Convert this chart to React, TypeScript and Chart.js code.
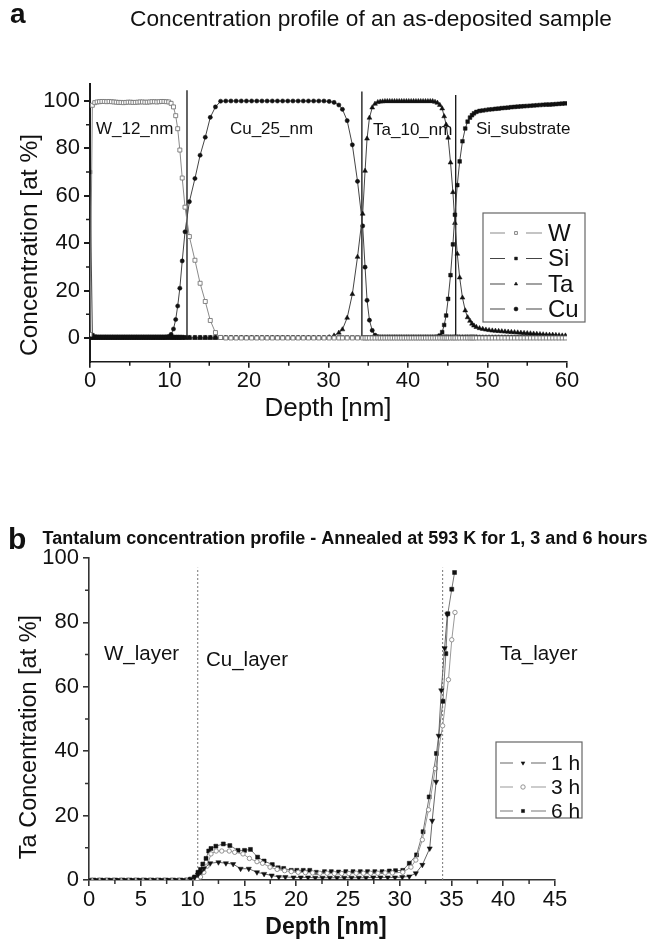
import React, { useEffect, useRef } from 'react';
import { Chart, registerables } from 'chart.js';
import { drawPoint } from 'chart.js/helpers';

Chart.register(...registerables);

const FONT = "'Liberation Sans', Arial, Helvetica, sans-serif";

// ---------------- Panel a : as-deposited profile ----------------
const DEPTH_A = [
  0, 0.3, 0.6, 0.9, 1.2, 1.5, 1.8, 2.1, 2.4, 2.7, 3.0, 3.3, 3.6, 3.9, 4.2, 4.5, 4.8, 5.1, 5.4, 5.7,
  6.0, 6.3, 6.6, 6.9, 7.2, 7.5, 7.8, 8.1, 8.4, 8.7, 9.0, 9.3, 9.6, 9.9,
  10.2, 10.5, 10.78, 11.03, 11.3, 11.6, 11.95, 12.5, 13.2, 13.85, 14.5, 15.13, 15.78, 16.43,
  17.08, 17.73, 18.38, 19.03, 19.68, 20.33, 20.98, 21.63, 22.28, 22.93, 23.58, 24.23, 24.88, 25.53,
  26.18, 26.83, 27.48, 28.13, 28.78, 29.43, 30.08, 30.7, 31.3,
  31.75, 32.35, 33.0, 33.65, 34.3, 34.6, 34.85, 35.15, 35.5, 35.85, 36.2,
  36.5, 36.8, 37.1, 37.4, 37.7, 38.0, 38.3, 38.6, 38.9, 39.2, 39.5, 39.8, 40.1, 40.4, 40.7, 41.0,
  41.3, 41.6, 41.9, 42.2, 42.5, 42.8, 43.1, 43.4, 43.7,
  44.0, 44.3, 44.55, 44.8, 45.05, 45.35, 45.65, 45.9, 46.2, 46.5, 46.85, 47.2, 47.5, 47.8, 48.05, 48.3, 48.6,
  49.0, 49.4, 49.8, 50.2, 50.6, 51.0, 51.4, 51.8, 52.2, 52.6, 53.0, 53.4, 53.8, 54.2, 54.6, 55.0,
  55.4, 55.8, 56.2, 56.6, 57.0, 57.4, 57.8, 58.2, 58.6, 59.0, 59.4, 59.8,
];
const W_A = [
  1.5, 98.2, 99.3, 99.6, 99.7, 99.8, 99.8, 99.7, 99.8, 99.7, 99.6, 99.5, 99.4, 99.4, 99.3, 99.4, 99.5, 99.5, 99.4, 99.4,
  99.5, 99.6, 99.6, 99.5, 99.5, 99.6, 99.7, 99.7, 99.6, 99.7, 99.8, 99.8, 99.7, 99.6,
  99.0, 97.5, 93.8, 88.3, 79.3, 67.5, 55.2, 42.8, 32.8, 23.1, 15.4, 7.4, 2.3, 0.2,
  0, 0, 0, 0, 0, 0, 0, 0, 0, 0, 0, 0, 0, 0,
  0, 0, 0, 0, 0, 0, 0, 0, 0,
  0, 0, 0, 0, 0, 0, 0, 0, 0, 0, 0,
  0, 0, 0, 0, 0, 0, 0, 0, 0, 0, 0, 0, 0, 0, 0, 0,
  0, 0, 0, 0, 0, 0, 0, 0, 0,
  0, 0, 0, 0, 0, 0, 0, 0, 0, 0, 0, 0, 0, 0, 0, 0, 0,
  0, 0, 0, 0, 0, 0, 0, 0, 0, 0, 0, 0, 0, 0, 0, 0,
  0, 0, 0, 0, 0, 0, 0, 0, 0, 0, 0, 0,
];
const SI_A = [
  70, 1.2, 0.6, 0.5, 0.5, 0.5, 0.5, 0.5, 0.5, 0.5, 0.5, 0.5, 0.5, 0.5, 0.5, 0.5, 0.5, 0.5, 0.5, 0.5,
  0.5, 0.5, 0.5, 0.5, 0.5, 0.5, 0.5, 0.5, 0.5, 0.5, 0.5, 0.5, 0.5, 0.5,
  0.4, 0.4, 0.4, 0.4, 0.4, 0.4, 0.3, 0.3, 0.3, 0.3, 0.3, 0.3, 0.3, 0.3,
  0.2, 0.2, 0.2, 0.2, 0.2, 0.2, 0.2, 0.2, 0.2, 0.2, 0.2, 0.2, 0.2, 0.2,
  0.2, 0.2, 0.2, 0.2, 0.2, 0.2, 0.2, 0.2, 0.2,
  0.2, 0.2, 0.2, 0.2, 0.2, 0.2, 0.2, 0.2, 0.2, 0.2, 0.2,
  0.2, 0.2, 0.2, 0.2, 0.2, 0.2, 0.2, 0.2, 0.2, 0.2, 0.2, 0.2, 0.2, 0.2, 0.2, 0.2,
  0.2, 0.2, 0.2, 0.2, 0.2, 0.2, 0.2, 0.3, 0.5,
  1.0, 2.5, 5.5, 9.5, 16.5, 26.5, 39.5, 52.0, 64.5, 74.5, 83.0, 88.4, 91.3, 93.0, 94.0, 94.8, 95.4,
  95.8, 96.0, 96.2, 96.4, 96.5, 96.7, 96.8, 97.0, 97.1, 97.2, 97.4, 97.5, 97.6, 97.7, 97.8, 97.9,
  98.0, 98.1, 98.2, 98.3, 98.4, 98.5, 98.5, 98.6, 98.7, 98.8, 98.9, 99.0,
];
const TA_A = [
  0, 0, 0, 0, 0, 0, 0, 0, 0, 0, 0, 0, 0, 0, 0, 0, 0, 0, 0, 0,
  0, 0, 0, 0, 0, 0, 0, 0, 0, 0, 0, 0, 0, 0,
  0, 0, 0, 0, 0, 0, 0, 0, 0, 0, 0, 0, 0, 0,
  0, 0, 0, 0, 0, 0, 0, 0, 0, 0, 0, 0, 0, 0,
  0, 0, 0, 0, 0, 0, 0.3, 1.0, 2.2,
  3.6, 8.5, 18.5, 34.2, 52.4, 70.5, 84.1, 92.9, 97.2, 98.8, 99.5,
  99.7, 99.8, 99.9, 99.9, 99.9, 99.9, 99.9, 99.9, 99.9, 99.9, 99.9, 99.9, 99.9, 99.9, 99.9, 99.9,
  99.9, 99.9, 99.9, 99.9, 99.9, 99.9, 99.9, 99.6, 99.2,
  98.3, 96.8, 93.5, 90.0, 84.5, 74.0, 61.5, 48.5, 35.5, 25.5, 17.0, 11.6, 8.7, 7.2, 6.0, 5.2, 4.6,
  4.1, 3.8, 3.5, 3.3, 3.1, 3.0, 2.9, 2.8, 2.7, 2.6, 2.5, 2.4, 2.3, 2.2, 2.1, 2.0,
  1.9, 1.8, 1.7, 1.6, 1.5, 1.4, 1.3, 1.3, 1.2, 1.1, 1.0, 1.0,
];
const CU_A = [
  0.8, 0.3, 0.3, 0.3, 0.3, 0.3, 0.3, 0.3, 0.3, 0.3, 0.3, 0.3, 0.3, 0.3, 0.3, 0.3, 0.3, 0.3, 0.3, 0.3,
  0.3, 0.3, 0.3, 0.3, 0.3, 0.3, 0.3, 0.3, 0.3, 0.3, 0.3, 0.3, 0.4, 0.6,
  1.5, 3.8, 7.8, 13.5, 21.0, 32.5, 44.8, 57.5, 67.3, 77.1, 84.7, 93.1, 97.5, 99.9,
  100, 100, 100, 100, 100, 100, 100, 100, 100, 100, 100, 100, 100, 100,
  100, 100, 100, 100, 100, 100, 99.8, 99.4, 98.3,
  96.5, 91.7, 81.5, 66.1, 47.3, 29.9, 15.9, 7.5, 3.2, 1.2, 0.6,
  0.5, 0.5, 0.5, 0.5, 0.5, 0.5, 0.5, 0.5, 0.5, 0.5, 0.5, 0.5, 0.5, 0.5, 0.5, 0.5,
  0.5, 0.5, 0.5, 0.5, 0.5, 0.5, 0.5, 0.5, 0.5,
  0.5, 0.5, 0.5, 0.5, 0.5, 0.5, 0.5, 0.5, 0.5, 0.5, 0.5, 0.5, 0.5, 0.5, 0.5, 0.5, 0.5,
  0.4, 0.4, 0.4, 0.4, 0.4, 0.4, 0.4, 0.4, 0.4, 0.4, 0.4, 0.4, 0.4, 0.4, 0.4, 0.4,
  0.4, 0.4, 0.4, 0.4, 0.4, 0.4, 0.4, 0.4, 0.4, 0.4, 0.4, 0.4,
];
const SERIES_A = ['W', 'Si', 'Ta', 'Cu'];
const INTERFACE_DEPTH_A = [12.2, 34.2, 46.0];
const INTERFACE_TOP_A = [104.5, 104, 102.5];
const LAYER_NAMES_A = ['W_12_nm', 'Cu_25_nm', 'Ta_10_nm', 'Si_substrate'];
const X_TICKS_A = [0, 10, 20, 30, 40, 50, 60];
const X_MINOR_A = [5, 15, 25, 35, 45, 55];
const Y_TICKS_A = [0, 20, 40, 60, 80, 100];
const Y_MINOR_A = [10, 30, 50, 70, 90];

// ---------------- Panel b : Ta after annealing ----------------
const H1_DEPTH = [
  0, 0.7, 1.4, 2.1, 2.8, 3.5, 4.2, 4.9, 5.6, 6.3, 7.0, 7.7, 8.4, 9.1,
  9.82, 10.2, 10.52, 10.8, 11.09,
  11.71, 12.5, 13.22, 13.92, 14.64, 15.43, 16.22, 16.91, 17.64, 18.33, 18.96, 19.75,
  20.45, 21.15, 21.85, 22.55, 23.25, 23.95, 24.65, 25.35, 26.05, 26.75, 27.45, 28.15, 28.85, 29.55, 30.25,
  30.93, 31.56, 32.19, 32.9, 33.14, 33.52, 33.77, 34.02, 34.34, 34.6,
];
const H1_CONC = [
  0, 0, 0, 0, 0, 0, 0, 0, 0, 0, 0, 0, 0, 0,
  0.2, 0.8, 1.6, 2.5, 3.6,
  5.2, 5.5, 5.2, 4.95, 3.5, 3.5, 2.4, 1.9, 1.4, 0.95, 0.95, 0.8,
  0.8, 0.8, 0.7, 0.7, 0.7, 0.7, 0.7, 0.7, 0.7, 0.7, 0.8, 0.8, 0.8, 0.8, 0.9,
  1.1, 2.1, 4.7, 9.8, 18.4, 30.5, 44.8, 58.9, 72.0, 82.5,
];
const H3_DEPTH = [
  0.23, 0.93, 1.63, 2.33, 3.03, 3.73, 4.43, 5.13, 5.83, 6.53, 7.23, 7.93, 8.63, 9.33, 9.9,
  10.45, 10.77, 11.09, 11.4, 11.78, 12.28, 12.82, 13.54, 14.07, 14.87, 15.49, 16.22, 16.76, 17.48, 18.17, 18.89, 19.53,
  20.2, 20.9, 21.6, 22.3, 23.0, 23.7, 24.4, 25.1, 25.8, 26.5, 27.2, 27.9, 28.6, 29.3,
  30.3, 31.09, 31.56, 32.19, 32.79, 33.45, 34.15, 34.71, 35.03, 35.34,
];
const H3_CONC = [
  0, 0, 0, 0, 0, 0, 0, 0, 0, 0, 0, 0, 0, 0, 0,
  0.3, 0.95, 2.4, 4.3, 8.1, 9.0, 9.0, 9.0, 8.6, 8.1, 6.7, 5.7, 5.2, 4.0, 3.3, 2.9, 2.6,
  2.4, 2.3, 2.2, 2.1, 2.1, 2.0, 2.0, 2.0, 2.1, 2.1, 2.1, 2.1, 2.2, 2.2,
  2.4, 4.0, 6.2, 12.5, 21.8, 34.6, 47.9, 62.2, 74.6, 83.1,
];
const H6_DEPTH = [
  0.47, 1.17, 1.87, 2.57, 3.27, 3.97, 4.67, 5.37, 6.07, 6.77, 7.47, 8.17, 8.87, 9.5,
  9.82, 10.2, 10.52, 10.77, 10.99, 11.3, 11.56, 11.78, 12.25, 12.97, 13.6, 14.39, 15.02, 15.59, 16.28,
  16.91, 17.7, 18.27, 18.8, 19.53, 20.07, 20.69, 21.32, 21.95, 22.74,
  23.4, 24.1, 24.8, 25.5, 26.2, 26.9, 27.6, 28.3, 29.0, 29.6,
  30.3, 30.93, 31.63, 32.26, 32.85, 33.55, 34.18, 34.46, 34.65, 35.03, 35.3,
];
const H6_CONC = [
  0, 0, 0, 0, 0, 0, 0, 0, 0, 0, 0, 0, 0, 0,
  0.3, 0.95, 2.4, 3.3, 4.95, 6.7, 9.0, 9.8, 10.5, 11.2, 10.7, 9.2, 9.2, 9.5, 7.1,
  5.9, 4.8, 3.8, 3.6, 3.0, 3.0, 3.0, 3.0, 2.4, 2.6,
  2.6, 2.5, 2.6, 2.6, 2.6, 2.6, 2.6, 2.6, 2.8, 2.9,
  3.0, 5.2, 7.8, 15.0, 25.8, 39.3, 55.5, 70.3, 82.7, 90.3, 95.5,
];
const SERIES_B = ['1 h', '3 h', '6 h'];
const BOUNDARY_DEPTH_B = [10.5, 34.15];
const BOUNDARY_TOP_B = 97;
const LAYER_NAMES_B = ['W_layer', 'Cu_layer', 'Ta_layer'];
const X_TICKS_B = [0, 5, 10, 15, 20, 25, 30, 35, 40, 45];
const X_MINOR_B = [2.5, 7.5, 12.5, 17.5, 22.5, 27.5, 32.5, 37.5, 42.5];
const Y_TICKS_B = [0, 20, 40, 60, 80, 100];
const Y_MINOR_B = [10, 30, 50, 70, 90];

// ---------------- helpers ----------------
const pts = (xs: number[], ys: number[]) => xs.map((x, i) => ({ x, y: ys[i] }));

function txt(ctx: CanvasRenderingContext2D, s: string, x: number, y: number, font: string,
  align: CanvasTextAlign = 'left', rot = 0) {
  ctx.save();
  ctx.font = font;
  ctx.fillStyle = '#111';
  ctx.textAlign = align;
  ctx.textBaseline = 'middle';
  ctx.translate(x, y);
  if (rot) ctx.rotate(rot);
  ctx.fillText(s, 0, 0);
  ctx.restore();
}

function minorTicksPlugin(xs: number[], ys: number[], len: number, color: string, width: number) {
  return {
    id: 'minorTicks',
    afterDraw(chart: any) {
      const ctx = chart.ctx;
      const sx = chart.scales.x, sy = chart.scales.y;
      ctx.save();
      ctx.strokeStyle = color;
      ctx.lineWidth = width;
      ctx.beginPath();
      xs.forEach(v => { const p = sx.getPixelForValue(v); ctx.moveTo(p, sx.top); ctx.lineTo(p, sx.top + len); });
      ys.forEach(v => { const p = sy.getPixelForValue(v); ctx.moveTo(sy.right, p); ctx.lineTo(sy.right - len, p); });
      ctx.stroke();
      ctx.restore();
    },
  };
}

type LegendCfg = {
  box: [number, number, number, number];
  rowY: number[];
  dash1: [number, number];
  marker: number;
  dash2: [number, number];
  textX: number;
  font: string;
  labels: string[];
  radius: number;
};

function legendPlugin(cfg: LegendCfg) {
  return {
    id: 'customLegend',
    afterDraw(chart: any) {
      const ctx: CanvasRenderingContext2D = chart.ctx;
      const [l, t, r, b] = cfg.box;
      ctx.save();
      ctx.fillStyle = '#fff';
      ctx.fillRect(l, t, r - l, b - t);
      ctx.strokeStyle = '#666';
      ctx.lineWidth = 1.2;
      ctx.strokeRect(l, t, r - l, b - t);
      cfg.labels.forEach((lab, i) => {
        const ds = chart.data.datasets[i];
        const y = cfg.rowY[i];
        ctx.strokeStyle = ds.borderColor;
        ctx.lineWidth = 1.2;
        ctx.beginPath();
        ctx.moveTo(cfg.dash1[0], y); ctx.lineTo(cfg.dash1[1], y);
        ctx.moveTo(cfg.dash2[0], y); ctx.lineTo(cfg.dash2[1], y);
        ctx.stroke();
        ctx.fillStyle = ds.pointBackgroundColor;
        ctx.strokeStyle = ds.pointBorderColor;
        ctx.lineWidth = ds.pointBorderWidth;
        drawPoint(ctx, { pointStyle: ds.pointStyle, rotation: ds.pointRotation || 0, radius: cfg.radius, borderWidth: ds.pointBorderWidth } as any, cfg.marker, y);
        txt(ctx, lab, cfg.textX, y + 1, cfg.font);
      });
      ctx.restore();
    },
  };
}

function axis(min: number, max: number, ticks: number[], size: { w?: number; h?: number }, padding: number, color: string, bw: number) {
  return {
    type: 'linear' as const,
    min,
    max,
    afterBuildTicks: (s: any) => { s.ticks = ticks.map(v => ({ value: v })); },
    afterFit: (s: any) => { if (size.w !== undefined) s.width = size.w; if (size.h !== undefined) s.height = size.h; },
    grid: { display: true, drawOnChartArea: false, drawTicks: true, tickLength: 6, color, lineWidth: bw },
    border: { display: true, color, width: bw },
    ticks: { font: { size: 22, family: FONT }, color: '#111', padding, maxRotation: 0, autoSkip: false },
  };
}

// ---------------- chart configs ----------------
function configA(): any {
  const lineDs = (xi: number, top: number) => ({
    label: 'iface', data: [{ x: xi, y: 0 }, { x: xi, y: top }],
    borderColor: '#111', borderWidth: 1.3, pointRadius: 0,
  });
  const labelPos = [[0.75, 88], [17.6, 88], [35.6, 87.6], [48.55, 88]];
  return {
    type: 'line',
    data: {
      datasets: [
        { label: SERIES_A[0], data: pts(DEPTH_A, W_A), borderColor: '#8a8a8a', borderWidth: 1, pointStyle: 'rect', pointRadius: 2.8, pointBackgroundColor: '#fff', pointBorderColor: '#777', pointBorderWidth: 0.9 },
        { label: SERIES_A[1], data: pts(DEPTH_A, SI_A), borderColor: '#444', borderWidth: 1, pointStyle: 'rect', pointRadius: 2.6, pointBackgroundColor: '#111', pointBorderColor: '#111', pointBorderWidth: 0.5 },
        { label: SERIES_A[2], data: pts(DEPTH_A, TA_A), borderColor: '#444', borderWidth: 1, pointStyle: 'triangle', pointRadius: 2.8, pointBackgroundColor: '#111', pointBorderColor: '#111', pointBorderWidth: 0.5 },
        { label: SERIES_A[3], data: pts(DEPTH_A, CU_A), borderColor: '#444', borderWidth: 1, pointStyle: 'circle', pointRadius: 2.1, pointBackgroundColor: '#111', pointBorderColor: '#111', pointBorderWidth: 0.5 },
        ...INTERFACE_DEPTH_A.map((d, i) => lineDs(d, INTERFACE_TOP_A[i])),
      ],
    },
    options: {
      animation: false,
      responsive: false,
      devicePixelRatio: 1,
      events: [],
      layout: { padding: { top: 84.4, right: 87, bottom: 0, left: 0 } },
      plugins: { legend: { display: false }, tooltip: { enabled: false } },
      elements: { line: { tension: 0 } },
      scales: {
        x: axis(0, 60, X_TICKS_A, { h: 108.3 }, 0, '#1a1a1a', 1.6),
        y: axis(-10, 107, Y_TICKS_A, { w: 90 }, 4, '#1a1a1a', 2),
      },
    },
    plugins: [
      minorTicksPlugin(X_MINOR_A, Y_MINOR_A, 4, '#1a1a1a', 1.5),
      legendPlugin({
        box: [483, 213, 585, 322], rowY: [233, 258.5, 284, 309],
        dash1: [490, 505], marker: 516, dash2: [526, 542], textX: 548,
        font: `24px ${FONT}`, labels: SERIES_A, radius: 2,
      }),
      {
        id: 'textsA',
        afterDraw(chart: any) {
          const ctx = chart.ctx, sx = chart.scales.x, sy = chart.scales.y;
          txt(ctx, 'a', 10, 15, `bold 28px ${FONT}`);
          txt(ctx, 'Concentration profile of an as-deposited sample', 371, 20, `22.7px ${FONT}`, 'center');
          txt(ctx, 'Concentration [at %]', 30, 245, `24.5px ${FONT}`, 'center', -Math.PI / 2);
          txt(ctx, 'Depth [nm]', 328, 409, `26px ${FONT}`, 'center');
          LAYER_NAMES_A.forEach((n, i) => txt(ctx, n, sx.getPixelForValue(labelPos[i][0]), sy.getPixelForValue(labelPos[i][1]), `17px ${FONT}`));
        },
      },
    ],
  };
}

function configB(): any {
  const lineDs = (xi: number) => ({
    label: 'boundary', data: [{ x: xi, y: 0 }, { x: xi, y: BOUNDARY_TOP_B }],
    borderColor: '#777', borderWidth: 1, borderDash: [2, 2], pointRadius: 0,
  });
  const labelPos = [[1.45, 70], [11.3, 68.3], [39.7, 70]];
  return {
    type: 'line',
    data: {
      datasets: [
        { label: SERIES_B[0], data: pts(H1_DEPTH, H1_CONC), borderColor: '#666', borderWidth: 1, pointStyle: 'triangle', pointRotation: 180, pointRadius: 3, pointBackgroundColor: '#111', pointBorderColor: '#111', pointBorderWidth: 0.5 },
        { label: SERIES_B[1], data: pts(H3_DEPTH, H3_CONC), borderColor: '#999', borderWidth: 1, pointStyle: 'circle', pointRadius: 2.2, pointBackgroundColor: '#fff', pointBorderColor: '#888', pointBorderWidth: 0.9 },
        { label: SERIES_B[2], data: pts(H6_DEPTH, H6_CONC), borderColor: '#777', borderWidth: 1, pointStyle: 'rect', pointRadius: 2.8, pointBackgroundColor: '#111', pointBorderColor: '#111', pointBorderWidth: 0.5 },
        ...BOUNDARY_DEPTH_B.map(d => lineDs(d)),
      ],
    },
    options: {
      animation: false,
      responsive: false,
      devicePixelRatio: 1,
      events: [],
      layout: { padding: { top: 88, right: 99, bottom: 0, left: 0 } },
      plugins: { legend: { display: false }, tooltip: { enabled: false } },
      elements: { line: { tension: 0 } },
      scales: {
        x: axis(0, 45, X_TICKS_B, { h: 63 }, 1, '#333', 1.6),
        y: axis(0, 100, Y_TICKS_B, { w: 89 }, 4, '#333', 1.6),
      },
    },
    plugins: [
      minorTicksPlugin(X_MINOR_B, Y_MINOR_B, 4, '#333', 1.5),
      legendPlugin({
        box: [496, 272, 582, 348], rowY: [293, 317, 341],
        dash1: [500, 513], marker: 523, dash2: [531, 546], textX: 551,
        font: `21px ${FONT}`, labels: SERIES_B, radius: 2.2,
      }),
      {
        id: 'textsB',
        afterDraw(chart: any) {
          const ctx = chart.ctx, sx = chart.scales.x, sy = chart.scales.y;
          txt(ctx, 'b', 8, 71, `bold 30px ${FONT}`);
          txt(ctx, 'Tantalum concentration profile - Annealed at 593 K for 1, 3 and 6 hours', 345, 69, `bold 18px ${FONT}`, 'center');
          txt(ctx, 'Ta Concentration [at %]', 30, 267, `23.5px ${FONT}`, 'center', -Math.PI / 2);
          txt(ctx, 'Depth [nm]', 326, 458, `bold 23px ${FONT}`, 'center');
          LAYER_NAMES_B.forEach((n, i) => txt(ctx, n, sx.getPixelForValue(labelPos[i][0]), sy.getPixelForValue(labelPos[i][1]), `20.5px ${FONT}`));
        },
      },
    ],
  };
}

export default function App() {
  const refA = useRef<HTMLCanvasElement>(null);
  const refB = useRef<HTMLCanvasElement>(null);
  useEffect(() => {
    const a = new Chart(refA.current as HTMLCanvasElement, configA());
    const b = new Chart(refB.current as HTMLCanvasElement, configB());
    return () => { a.destroy(); b.destroy(); };
  }, []);
  return (
    <div style={{ position: 'absolute', left: 0, top: 0, width: 654, height: 943, background: '#fff' }}>
      <canvas ref={refA} width={654} height={470} style={{ position: 'absolute', left: 0, top: 0, width: 654, height: 470 }} />
      <canvas ref={refB} width={654} height={473} style={{ position: 'absolute', left: 0, top: 470, width: 654, height: 473 }} />
    </div>
  );
}
